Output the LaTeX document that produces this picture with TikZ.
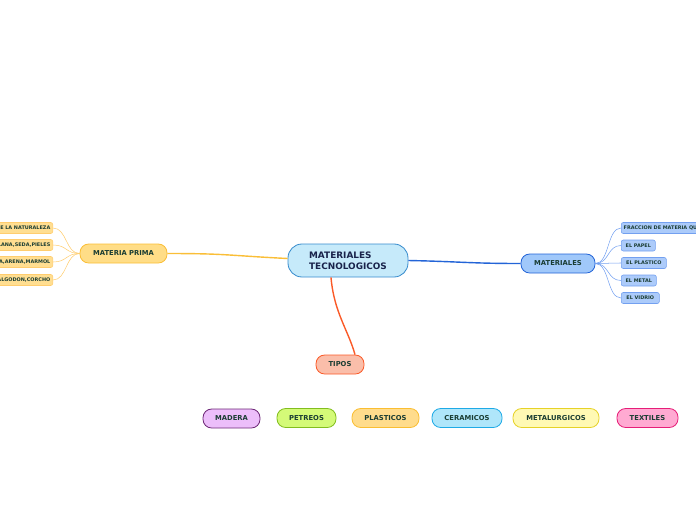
\documentclass[tikz,border=0pt]{standalone}
\usepackage{fontspec}
\setmainfont{DejaVu Sans}
\usepackage{xcolor}
\usepackage{tikz}
\usetikzlibrary{calc}
\definecolor{inknavy}{RGB}{25, 35, 75}
\definecolor{inkteal}{RGB}{25, 60, 50}
\definecolor{centerfill}{RGB}{198, 234, 250}
\definecolor{centerdraw}{RGB}{55, 140, 205}
\definecolor{primafill}{RGB}{255, 221, 135}
\definecolor{primadraw}{RGB}{250, 190, 55}
\definecolor{matfill}{RGB}{160, 200, 250}
\definecolor{matdraw}{RGB}{35, 100, 215}
\definecolor{tipofill}{RGB}{250, 190, 170}
\definecolor{tipodraw}{RGB}{250, 90, 40}
\definecolor{leafyfill}{RGB}{255, 222, 145}
\definecolor{leafydraw}{RGB}{255, 205, 110}
\definecolor{leafbfill}{RGB}{172, 203, 250}
\definecolor{leafbdraw}{RGB}{115, 160, 240}
\definecolor{maderafill}{RGB}{236, 190, 250}
\definecolor{maderadraw}{RGB}{110, 40, 120}
\definecolor{petreofill}{RGB}{212, 250, 120}
\definecolor{petreodraw}{RGB}{130, 190, 30}
\definecolor{plastfill}{RGB}{255, 220, 140}
\definecolor{plastdraw}{RGB}{250, 190, 50}
\definecolor{ceramfill}{RGB}{175, 230, 250}
\definecolor{ceramdraw}{RGB}{30, 170, 230}
\definecolor{metalfill}{RGB}{255, 249, 180}
\definecolor{metaldraw}{RGB}{230, 210, 40}
\definecolor{textilfill}{RGB}{255, 170, 210}
\definecolor{textildraw}{RGB}{230, 30, 120}

\begin{document}
\begin{tikzpicture}[
    x=0.03cm, y=-0.03cm,
    central/.style={rectangle, rounded corners=0.42cm, draw=centerdraw, fill=centerfill, line width=0.7pt, minimum width=3.6cm, minimum height=0.99cm, text=inknavy, align=left, font=\fontsize{7.6}{9}\selectfont\bfseries},
    branch/.style={rectangle, rounded corners=0.26cm, line width=0.7pt, minimum height=0.57cm, inner sep=1pt, text=inkteal, font=\fontsize{5.8}{7}\selectfont\bfseries},
    leafy/.style={rectangle, rounded corners=0.06cm, draw=leafydraw, fill=leafyfill, line width=0.5pt, minimum height=0.33cm, inner sep=2pt, text=inkteal, font=\fontsize{4.2}{5}\selectfont\bfseries},
    leafb/.style={leafy, draw=leafbdraw, fill=leafbfill},
    link/.style={line width=1.2pt},
    twig/.style={line width=0.45pt}
]
\useasboundingbox (0,0) rectangle (696,520);

% Centre and main branches
\node[central] (cen) at (348, 260.5) {MATERIALES\\TECNOLOGICOS};
\node[branch, draw=primadraw, fill=primafill, minimum width=2.61cm] (prima) at (123.5, 253.5) {MATERIA PRIMA};
\node[branch, draw=matdraw, fill=matfill, minimum width=2.22cm] (mat) at (558, 263.5) {MATERIALES};
\node[branch, draw=tipodraw, fill=tipofill, minimum width=1.44cm] (tipos) at (340, 364.5) {TIPOS};

% Leaves of MATERIA PRIMA (cut by the left margin)
\node[leafy, anchor=east] (nat) at (53, 228) {DE LA NATURALEZA};
\node[leafy, anchor=east] (lana) at (53, 245) {LANA,SEDA,PIELES};
\node[leafy, anchor=east] (arena) at (53, 262) {A,ARENA,MARMOL};
\node[leafy, anchor=east] (algodon) at (53, 280) {ALGODON,CORCHO};

% Leaves of MATERIALES
\node[leafb, anchor=west] (fraccion) at (621, 228) {FRACCION DE MATERIA QUE};
\node[leafb, anchor=west, minimum width=1.02cm] (papel) at (621, 245.5) {EL PAPEL};
\node[leafb, anchor=west, minimum width=1.35cm] (plastico) at (621, 263) {EL PLASTICO};
\node[leafb, anchor=west, minimum width=1.05cm] (metal) at (621, 280.5) {EL METAL};
\node[leafb, anchor=west, minimum width=1.14cm] (vidrio) at (621, 298) {EL VIDRIO};

% Types row
\node[branch, draw=maderadraw, fill=maderafill, minimum width=1.71cm] (madera) at (231.5, 418.5) {MADERA};
\node[branch, draw=petreodraw, fill=petreofill, minimum width=1.77cm] (petreos) at (306.5, 418) {PETREOS};
\node[branch, draw=plastdraw, fill=plastfill, minimum width=2.01cm] (plasticos) at (385.5, 418) {PLASTICOS};
\node[branch, draw=ceramdraw, fill=ceramfill, minimum width=2.1cm] (ceramicos) at (467, 418) {CERAMICOS};
\node[branch, draw=metaldraw, fill=metalfill, minimum width=2.58cm] (metalurgicos) at (556, 418) {METALURGICOS};
\node[branch, draw=textildraw, fill=textilfill, minimum width=1.83cm] (textiles) at (647.5, 418) {TEXTILES};

% Connectors
\draw[link, primadraw] ($(cen.west)+(0,-2)$) .. controls +(-60,-3) and +(60,0) .. (prima.east);
\draw[link, matdraw] (cen.east) .. controls +(50,1) and +(-50,0) .. (mat.west);
\draw[link, tipodraw] ($(cen.south)+(-17,0)$) .. controls +(3,35) and +(-7,-25) .. ($(tipos.north)+(15,0)$);

\foreach \leaf in {nat, lana, arena, algodon}
  \draw[twig, leafydraw] (prima.west) .. controls +(-14,0) and +(14,0) .. (\leaf.east);
\foreach \leaf in {fraccion, papel, plastico, metal, vidrio}
  \draw[twig, leafbdraw] (mat.east) .. controls +(14,0) and +(-14,0) .. (\leaf.west);

\end{tikzpicture}
\end{document}
